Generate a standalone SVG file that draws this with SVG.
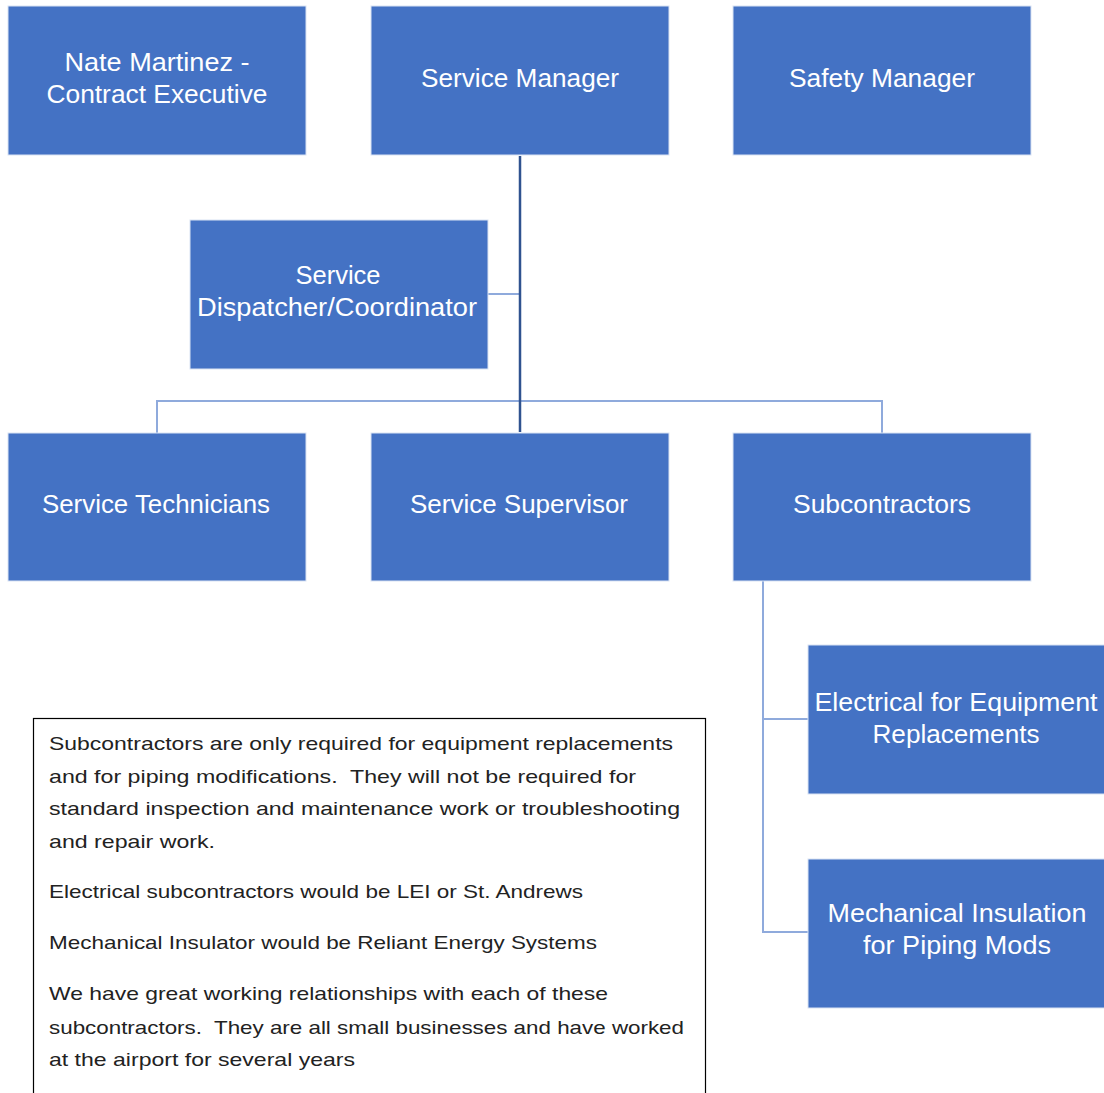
<svg xmlns="http://www.w3.org/2000/svg" width="1104" height="1093" viewBox="0 0 1104 1093">
<style>
.box{fill:#4472C4;stroke:#DAE3F3;stroke-width:1}
.lbl{font-family:"Liberation Sans","Open Sans",sans-serif;font-size:25px;fill:#FFFFFF;text-anchor:middle}
.note{font-family:"Liberation Sans","Open Sans",sans-serif;font-size:19px;fill:#222222;white-space:pre}
.c1{stroke:#2F528F;stroke-width:2.5;fill:none}
.c2{stroke:#8FAADC;stroke-width:2;fill:none}
</style>
<rect width="1104" height="1093" fill="#FFFFFF"/>
<g id="connectors">
<line class="c2" x1="157" y1="401" x2="882" y2="401"/>
<line class="c2" x1="157" y1="400" x2="157" y2="433"/>
<line class="c2" x1="882" y1="400" x2="882" y2="433"/>
<line class="c2" x1="488" y1="294" x2="520" y2="294"/>
<line class="c1" x1="520" y1="156" x2="520" y2="432"/>
<polyline class="c2" points="763,581 763,932 808,932"/>
<line class="c2" x1="763" y1="719" x2="808" y2="719"/>
</g>
<g id="nate">
<rect class="box" x="8" y="6" width="298" height="149"/>
<text class="lbl" x="157" y="71" textLength="185" lengthAdjust="spacingAndGlyphs">Nate Martinez -</text>
<text class="lbl" x="157" y="103" textLength="221" lengthAdjust="spacingAndGlyphs">Contract Executive</text>
</g>
<g id="service-manager">
<rect class="box" x="371" y="6" width="298" height="149"/>
<text class="lbl" x="520" y="87" textLength="198" lengthAdjust="spacingAndGlyphs">Service Manager</text>
</g>
<g id="safety-manager">
<rect class="box" x="733" y="6" width="298" height="149"/>
<text class="lbl" x="882" y="87" textLength="186" lengthAdjust="spacingAndGlyphs">Safety Manager</text>
</g>
<g id="dispatcher">
<rect class="box" x="190" y="220" width="298" height="149"/>
<text class="lbl" x="338" y="284" textLength="85" lengthAdjust="spacingAndGlyphs">Service</text>
<text class="lbl" x="337" y="316" textLength="280" lengthAdjust="spacingAndGlyphs">Dispatcher/Coordinator</text>
</g>
<g id="technicians">
<rect class="box" x="8" y="433" width="298" height="148"/>
<text class="lbl" x="156" y="513" textLength="228" lengthAdjust="spacingAndGlyphs">Service Technicians</text>
</g>
<g id="supervisor">
<rect class="box" x="371" y="433" width="298" height="148"/>
<text class="lbl" x="519" y="513" textLength="218" lengthAdjust="spacingAndGlyphs">Service Supervisor</text>
</g>
<g id="subcontractors">
<rect class="box" x="733" y="433" width="298" height="148"/>
<text class="lbl" x="882" y="513" textLength="178" lengthAdjust="spacingAndGlyphs">Subcontractors</text>
</g>
<g id="electrical">
<rect class="box" x="808" y="645" width="298" height="149"/>
<text class="lbl" x="956" y="711" textLength="283" lengthAdjust="spacingAndGlyphs">Electrical for Equipment</text>
<text class="lbl" x="956" y="743" textLength="167" lengthAdjust="spacingAndGlyphs">Replacements</text>
</g>
<g id="mechanical">
<rect class="box" x="808" y="859" width="298" height="149"/>
<text class="lbl" x="957" y="922" textLength="259" lengthAdjust="spacingAndGlyphs">Mechanical Insulation</text>
<text class="lbl" x="957" y="954" textLength="188" lengthAdjust="spacingAndGlyphs">for Piping Mods</text>
</g>
<g id="note">
<rect x="33.5" y="718.5" width="672" height="380" fill="#FFFFFF" stroke="#000000" stroke-width="1.2"/>
<text class="note" x="49" y="750" textLength="624" lengthAdjust="spacingAndGlyphs">Subcontractors are only required for equipment replacements</text>
<text class="note" x="49" y="783" textLength="587" lengthAdjust="spacingAndGlyphs">and for piping modifications.  They will not be required for</text>
<text class="note" x="49" y="815" textLength="631" lengthAdjust="spacingAndGlyphs">standard inspection and maintenance work or troubleshooting</text>
<text class="note" x="49" y="848" textLength="166" lengthAdjust="spacingAndGlyphs">and repair work.</text>
<text class="note" x="49" y="898" textLength="534" lengthAdjust="spacingAndGlyphs">Electrical subcontractors would be LEI or St. Andrews</text>
<text class="note" x="49" y="949" textLength="548" lengthAdjust="spacingAndGlyphs">Mechanical Insulator would be Reliant Energy Systems</text>
<text class="note" x="49" y="1000" textLength="559" lengthAdjust="spacingAndGlyphs">We have great working relationships with each of these</text>
<text class="note" x="49" y="1034" textLength="635" lengthAdjust="spacingAndGlyphs">subcontractors.  They are all small businesses and have worked</text>
<text class="note" x="49" y="1066" textLength="306" lengthAdjust="spacingAndGlyphs">at the airport for several years</text>
</g>
</svg>
